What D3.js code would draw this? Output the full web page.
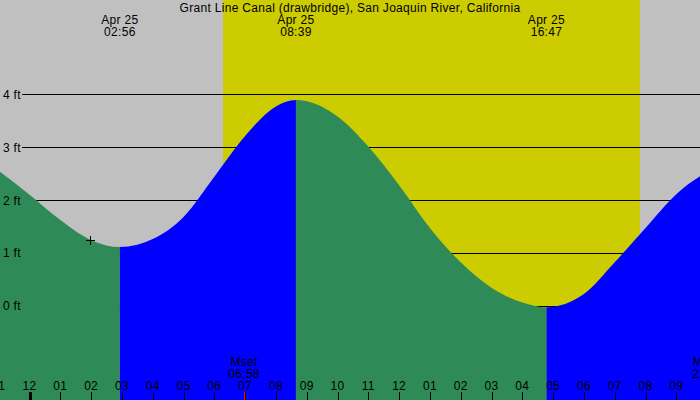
<!DOCTYPE html>
<html>
<head>
<meta charset="utf-8">
<script src="https://cdn.jsdelivr.net/npm/d3@7"></script>
<style>
html,body{margin:0;padding:0;background:#c0c0c0;}
svg{display:block;font-family:"Liberation Sans",Arial,sans-serif;letter-spacing:0.3px;}
</style>
</head>
<body>
<svg id="chart" width="700" height="400"></svg>
<script>
// ---- data ----
const title = "Grant Line Canal (drawbridge), San Joaquin River, California";
const viewStart = "2025-04-24 23:02:30";
const viewEnd = "2025-04-25 21:46:10";

const tideTimes = ["2025-04-24 22:00","2025-04-24 23:00","2025-04-25 00:00","2025-04-25 01:00","2025-04-25 02:00",
  "2025-04-25 02:56","2025-04-25 04:00","2025-04-25 05:00","2025-04-25 06:00","2025-04-25 07:00","2025-04-25 08:00",
  "2025-04-25 08:39","2025-04-25 09:00","2025-04-25 10:00","2025-04-25 11:00","2025-04-25 12:00","2025-04-25 13:00",
  "2025-04-25 14:00","2025-04-25 15:00","2025-04-25 16:00","2025-04-25 16:47","2025-04-25 18:00","2025-04-25 19:00",
  "2025-04-25 20:00","2025-04-25 21:00","2025-04-25 22:00","2025-04-25 23:00"];
const tideFeet = [2.95,2.55,2.10,1.62,1.24,
  1.11,1.26,1.68,2.44,3.21,3.77,
  3.89,3.87,3.58,3.01,2.28,1.47,
  0.82,0.34,0.06,-0.03,0.22,0.82,
  1.47,2.11,2.53,2.80];

const extremeTimes = ["2025-04-25 02:56","2025-04-25 08:39","2025-04-25 16:47"];
const extremeTypes = ["Low","High","Low"];
const extremeDateLabels = ["Apr 25","Apr 25","Apr 25"];
const extremeTimeLabels = ["02:56","08:39","16:47"];

const sunTimes = ["2025-04-25 06:17","2025-04-25 19:49"]; // sunrise, sunset

const moonNames = ["Mset","Mrise"];
const moonTimes = ["2025-04-25 06:58","2025-04-25 22:02"];
const moonTimeLabels = ["06:58","22:02"];

const nowTime = "2025-04-25 01:58";
const nowFeet = 1.24;

const yTicks = [0,1,2,3,4];
const yTickLabels = ["0 ft","1 ft","2 ft","3 ft","4 ft"];

// ---- drawing ----
const W = 700, H = 400;
const parse = d3.timeParse("%Y-%m-%d %H:%M");
const parseS = d3.timeParse("%Y-%m-%d %H:%M:%S");
const svg = d3.select("#chart");

const x = d3.scaleTime().domain([parseS(viewStart), parseS(viewEnd)]).range([0, W]);
const y = d3.scaleLinear().domain([0, 4]).range([305.7, 94.3]);

const colors = {night:"#c0c0c0", day:"#cccc00", rise:"#0000ff", fall:"#2e8b57"};

// background
svg.append("rect").attr("x",0).attr("y",0).attr("width",W).attr("height",H).attr("fill",colors.night);
const sr = parse(sunTimes[0]), ss = parse(sunTimes[1]);
svg.append("rect").attr("x",x(sr)).attr("y",0).attr("width",x(ss)-x(sr)).attr("height",H).attr("fill",colors.day);

// grid lines (behind the water)
const grid = svg.append("g");
yTicks.forEach(v=>{
  grid.append("line").attr("x1",22).attr("x2",W).attr("y1",Math.round(y(v))+0.5).attr("y2",Math.round(y(v))+0.5)
    .attr("stroke","#000").attr("stroke-width",1);
});

// tide area
const tide = tideTimes.map((t,i)=>({t:parse(t), v:tideFeet[i]}));
const area = d3.area().x(d=>x(d.t)).y0(H).y1(d=>y(d.v)).curve(d3.curveMonotoneX);
const bounds = [parseS(viewStart)].concat(extremeTimes.map(parse)).concat([parseS(viewEnd)]);
const defs = svg.append("defs");
for (let i=0;i<bounds.length-1;i++){
  const x0 = x(bounds[i]), x1 = x(bounds[i+1]);
  const type = i < extremeTypes.length ? extremeTypes[i] : (extremeTypes[extremeTypes.length-1]==="Low" ? "High" : "Low");
  const col = type==="Low" ? colors.fall : colors.rise;
  defs.append("clipPath").attr("id","seg"+i).append("rect")
    .attr("x",x0).attr("y",0).attr("width",x1-x0).attr("height",H);
  svg.append("path").datum(tide).attr("d",area).attr("fill",col).attr("clip-path","url(#seg"+i+")");
}

// y labels (on top)
yTicks.forEach((v,i)=>{
  svg.append("text").attr("x",3).attr("y",y(v)+4.5).attr("font-size",12).attr("fill","#000").text(yTickLabels[i]);
});

// title
svg.append("text").attr("x",W/2).attr("y",12).attr("text-anchor","middle").attr("font-size",12).attr("fill","#000").text(title);

// extreme labels
extremeTimes.forEach((t,i)=>{
  const cx = x(parse(t));
  svg.append("text").attr("x",cx).attr("y",24).attr("text-anchor","middle").attr("font-size",12).text(extremeDateLabels[i]);
  svg.append("text").attr("x",cx).attr("y",36).attr("text-anchor","middle").attr("font-size",12).text(extremeTimeLabels[i]);
});

// hour axis
const hours = d3.timeHour.range(d3.timeHour.floor(x.domain()[0]), d3.timeHour.offset(x.domain()[1],1));
const fmt = d3.timeFormat("%I");
hours.forEach(h=>{
  const hx = Math.round(x(h))+0.5;
  const midnight = h.getHours()===0;
  svg.append("line").attr("x1",hx).attr("x2",hx).attr("y1",392).attr("y2",400)
    .attr("stroke","#000").attr("stroke-width",midnight?3:1);
  svg.append("text").attr("x",x(h)).attr("y",390).attr("text-anchor","middle").attr("font-size",12).text(fmt(h));
});

// moon events
moonTimes.forEach((t,i)=>{
  const mx = x(parse(t));
  svg.append("line").attr("x1",Math.round(mx)+0.5).attr("x2",Math.round(mx)+0.5).attr("y1",392).attr("y2",400)
    .attr("stroke","#ff0000").attr("stroke-width",1);
  svg.append("text").attr("x",mx).attr("y",366).attr("text-anchor","middle").attr("font-size",12).text(moonNames[i]);
  svg.append("text").attr("x",mx).attr("y",378).attr("text-anchor","middle").attr("font-size",12).text(moonTimeLabels[i]);
});

// current time marker
const nx = Math.round(x(parse(nowTime)))+0.5, ny = Math.round(y(nowFeet))+0.5;
svg.append("line").attr("x1",nx-4.5).attr("x2",nx+4.5).attr("y1",ny).attr("y2",ny).attr("stroke","#000");
svg.append("line").attr("x1",nx).attr("x2",nx).attr("y1",ny-4.5).attr("y2",ny+4.5).attr("stroke","#000");
</script>
</body>
</html>
